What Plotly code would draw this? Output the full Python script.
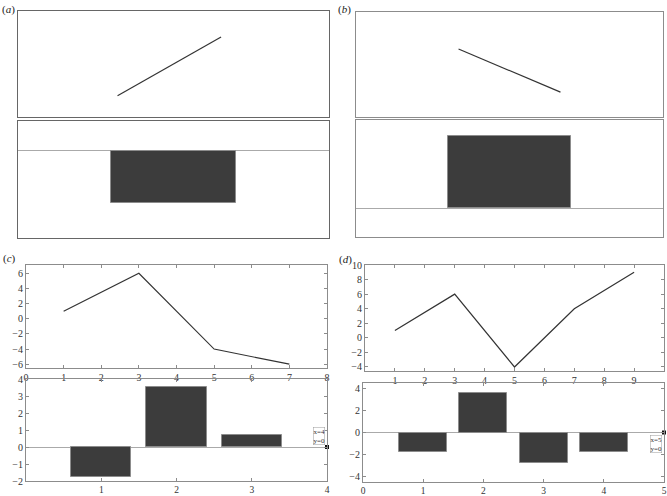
import plotly.graph_objects as go

# panel (c) data
c_line_x = [1, 3, 5, 7]
c_line_y = [1, 6, -4, -6]
c_bar_x = [1, 2, 3]
c_bar_y = [-1.75, 3.55, 0.7]

# panel (d) data
d_line_x = [1, 3, 5, 7, 9]
d_line_y = [1, 6, -4, 4, 9]
d_bar_x = [1, 2, 3, 4]
d_bar_y = [-1.75, 3.55, -2.8, -1.75]

# schematic panels (a) and (b), unitless
a_line_x = [0.32, 0.653]
a_line_y = [0.2, 0.755]
a_bar_x = [0.5]
a_bar_y = [-1]
b_line_x = [0.334, 0.666]
b_line_y = [0.647, 0.237]
b_bar_x = [0.5]
b_bar_y = [1]

LINE = "#333333"
BAR = "#3c3c3c"
EDGE = "#8c8c8c"
FONT = "Liberation Serif, Times New Roman, serif"

fig = go.Figure()

def px(x0, x1):
    return [x0 / 667, x1 / 667]

def py(y0, y1):
    return [1 - y1 / 496, 1 - y0 / 496]

# axis index, x domain, y domain
domains = {
    1: (px(18, 329), py(11, 117)),
    2: (px(18, 329), py(121, 238)),
    3: (px(356, 663), py(12, 117)),
    4: (px(356, 663), py(120, 237)),
    5: (px(26, 327), py(265, 368)),
    6: (px(26, 327), py(379, 481)),
    7: (px(365, 664), py(265, 371)),
    8: (px(363, 664), py(383, 482)),
}

def ax_names(i):
    return ("x" if i == 1 else f"x{i}", "y" if i == 1 else f"y{i}")

def add_line(i, xs, ys):
    xa, ya = ax_names(i)
    fig.add_trace(go.Scatter(x=xs, y=ys, mode="lines", xaxis=xa, yaxis=ya,
                             line=dict(color=LINE, width=1.2), showlegend=False))

def add_bars(i, xs, ys, width):
    xa, ya = ax_names(i)
    fig.add_trace(go.Bar(x=xs, y=ys, width=width, xaxis=xa, yaxis=ya,
                         marker=dict(color=BAR, line=dict(color=EDGE, width=1)),
                         showlegend=False))

add_line(1, a_line_x, a_line_y)
add_bars(2, a_bar_x, a_bar_y, 0.4)
add_line(3, b_line_x, b_line_y)
add_bars(4, b_bar_x, b_bar_y, 0.4)
add_line(5, c_line_x, c_line_y)
add_bars(6, c_bar_x, c_bar_y, 0.8)
add_line(7, d_line_x, d_line_y)
add_bars(8, d_bar_x, d_bar_y, 0.8)

# data cursor markers
for i, xv in [(6, 4), (8, 5)]:
    xa, ya = ax_names(i)
    fig.add_trace(go.Scatter(x=[xv], y=[0], mode="markers", xaxis=xa, yaxis=ya,
                             marker=dict(symbol="square", size=4, color="#111"),
                             showlegend=False, cliponaxis=False))

layout = dict(template="none", width=667, height=496, margin=dict(l=0, r=0, t=0, b=0),
              plot_bgcolor="white", paper_bgcolor="white", bargap=0,
              font=dict(family=FONT, size=10, color="#333"))

ranges = {
    1: ([0, 1], [0, 1]),
    2: ([0, 1], [-1.675, 0.576]),
    3: ([0, 1], [0, 1]),
    4: ([0, 1], [-0.401, 1.217]),
    5: ([0, 8], [-6.5, 7.1]),
    6: ([0, 4], [-2, 4]),
    7: ([0, 10], [-4.55, 10]),
    8: ([0, 5], [-4.5, 4.5]),
}

tickvals_x = {5: list(range(0, 9)), 6: [1, 2, 3, 4], 7: list(range(1, 10)), 8: list(range(0, 6))}
tickvals_y = {5: list(range(-6, 7, 2)), 6: list(range(-2, 5)), 7: list(range(-4, 11, 2)),
              8: list(range(-4, 5, 2))}

for i, (xd, yd) in domains.items():
    xr, yr = ranges[i]
    xa, ya = ax_names(i)
    xkey = "xaxis" if i == 1 else f"xaxis{i}"
    ykey = "yaxis" if i == 1 else f"yaxis{i}"
    schematic = i <= 4
    border = "#666666" if i in (1, 2) else EDGE
    common = dict(showgrid=False, showline=True, linecolor=border, linewidth=1,
                  mirror="ticks" if not schematic else True,
                  ticks="" if schematic else "inside", ticklen=3, tickcolor=EDGE,
                  showticklabels=not schematic, fixedrange=True,
                  tickfont=dict(family=FONT, size=10, color="#333"))
    layout[xkey] = dict(common, domain=xd, range=xr, anchor=ya, zeroline=False,
                        tickvals=tickvals_x.get(i))
    layout[ykey] = dict(common, domain=yd, range=yr, anchor=xa,
                        zeroline=i in (2, 4, 6, 8), zerolinecolor="#aaaaaa", zerolinewidth=1.2,
                        tickvals=tickvals_y.get(i))

fig.update_layout(**layout)
# bottom tick labels sit tight under the axis
fig.update_layout(xaxis6_tickfont_size=9.5, xaxis8_tickfont_size=9.5)

# panel letters
for txt, x, y in [("(<i>a</i>)", 0, 10), ("(<i>b</i>)", 336, 10),
                  ("(<i>c</i>)", 1, 258), ("(<i>d</i>)", 337, 259)]:
    fig.add_annotation(text=txt, x=x / 667, y=1 - y / 496, xref="paper", yref="paper",
                       xanchor="left", yanchor="middle", showarrow=False,
                       font=dict(family=FONT, size=11, color="#222"))

# data tips
fig.add_annotation(text="x=4<br>y=0", x=4, y=0, xref="x6", yref="y6", xanchor="right",
                   yanchor="bottom", xshift=-2, yshift=2, showarrow=False,
                   bordercolor="#999", borderwidth=0.5, borderpad=0, bgcolor="white",
                   font=dict(family=FONT, size=7, color="#333"))
fig.add_annotation(text="x=5<br>y=0", x=5, y=0, xref="x8", yref="y8", xanchor="right",
                   yanchor="top", xshift=-2, yshift=-2, showarrow=False,
                   bordercolor="#999", borderwidth=0.5, borderpad=0, bgcolor="white",
                   font=dict(family=FONT, size=7, color="#333"))

fig.write_html("out.html", config={"displayModeBar": False},
               post_script="document.body.style.margin='0';")
